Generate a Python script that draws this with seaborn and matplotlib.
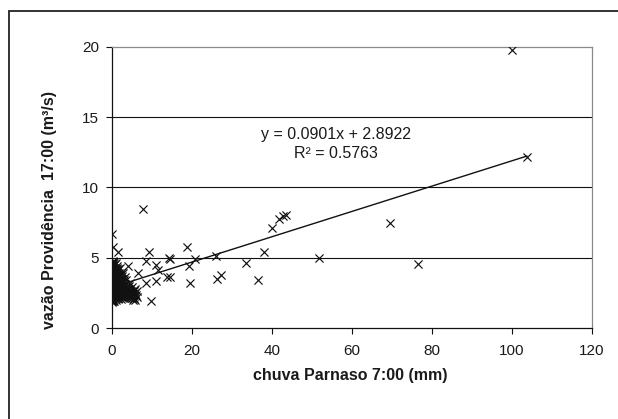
import matplotlib
matplotlib.use("Agg")
import matplotlib.pyplot as plt
import seaborn as sns
import pandas as pd
from matplotlib.patches import Rectangle

# ---- data ----
# dense cluster near zero rain
cluster_x = (
    [0.0] * 28
    + [0.2] * 8 + [0.5] * 8 + [0.8] * 6 + [1.0] * 7 + [1.3] * 5 + [1.6] * 5
    + [2.0] * 5 + [2.4] * 5 + [2.8] * 4 + [3.2] * 4 + [3.6] * 3 + [3.9]
    + [4.2] * 3 + [4.6] * 3 + [5.0] * 3 + [5.4] * 2 + [5.8] * 3 + [6.2] * 2 + [6.4]
)
cluster_y = (
    [1.9, 2.0, 2.1, 2.2, 2.3, 2.4, 2.5, 2.6, 2.7, 2.8, 2.9, 3.0, 3.1, 3.2,
     3.3, 3.4, 3.5, 3.6, 3.7, 3.8, 3.9, 4.0, 4.1, 4.2, 4.3, 4.4, 4.5, 4.6]
    + [2.05, 2.35, 2.75, 3.15, 3.45, 3.85, 4.25, 4.55]
    + [1.95, 2.45, 2.85, 3.25, 3.65, 4.05, 4.45, 4.7]
    + [2.2, 2.6, 3.0, 3.4, 3.9, 4.3]
    + [2.0, 2.5, 2.9, 3.3, 3.7, 4.1, 4.6]
    + [2.3, 2.8, 3.5, 4.0, 4.4]
    + [2.1, 2.7, 3.1, 3.6, 4.2]
    + [2.4, 2.9, 3.3, 3.8, 4.3]
    + [2.2, 2.6, 3.0, 3.5, 4.0]
    + [2.5, 2.9, 3.3, 3.9]
    + [2.3, 2.7, 3.1, 3.6]
    + [2.4, 2.8, 3.4]
    + [4.4]
    + [2.2, 2.6, 3.0]
    + [2.4, 2.8, 3.2]
    + [2.1, 2.5, 2.9]
    + [2.3, 2.7]
    + [2.0, 2.5, 2.8]
    + [2.2, 2.6]
    + [3.9]
)
# extra points filling the solid core of the cluster
core_x = ([0.1] * 10 + [0.35] * 9 + [0.65] * 8 + [1.15] * 6 + [1.45] * 5
          + [1.8] * 5 + [2.2] * 4 + [2.6] * 4 + [3.0] * 3 + [3.4] * 3
          + [4.0] * 2 + [4.4] * 2 + [4.8] * 2 + [5.2] * 2 + [5.6] * 2 + [6.0])
core_y = ([1.85, 2.25, 2.55, 2.95, 3.35, 3.55, 3.75, 4.15, 4.35, 4.65]
          + [1.9, 2.3, 2.6, 2.9, 3.3, 3.6, 3.95, 4.35, 4.75]
          + [2.1, 2.4, 2.75, 3.1, 3.5, 3.8, 4.2, 4.55]
          + [2.15, 2.55, 2.95, 3.45, 3.85, 4.25]
          + [2.05, 2.45, 3.05, 3.75, 4.15]
          + [2.25, 2.55, 2.95, 3.45, 3.95]
          + [2.05, 2.75, 3.15, 3.65]
          + [2.35, 2.8, 3.2, 3.7]
          + [2.15, 2.55, 3.45]
          + [2.1, 2.5, 2.95]
          + [2.35, 2.75]
          + [2.1, 2.6]
          + [2.25, 2.65]
          + [2.0, 2.45]
          + [2.15, 2.65]
          + [2.35])
# scattered points
spread_x = [0.0, 0.2, 1.6, 7.7, 9.2, 8.5, 11.0, 11.4, 14.3, 13.75, 11.0, 8.5,
            9.75, 14.5, 14.5, 18.8, 20.75, 19.3, 19.5, 26.0, 26.2, 27.2, 33.4,
            36.5, 38.0, 40.1, 41.8, 42.7, 43.5, 51.75, 69.5, 76.5, 100.0, 103.75]
spread_y = [6.7, 5.8, 5.4, 8.5, 5.4, 4.8, 4.5, 4.1, 5.0, 3.65, 3.35, 3.2,
            1.9, 4.9, 3.65, 5.8, 4.9, 4.4, 3.2, 5.1, 3.5, 3.8, 4.65,
            3.4, 5.4, 7.1, 7.75, 8.0, 8.05, 5.0, 7.5, 4.55, 19.8, 12.15]

x_ticks = [0, 20, 40, 60, 80, 100, 120]
y_ticks = [0, 5, 10, 15, 20]
grid_y = [5, 10, 15]

trend_slope = 0.0901
trend_intercept = 2.8922
trend_x = [0.0, 103.75]

equation_text = "y = 0.0901x + 2.8922"
r2_text = "R² = 0.5763"
x_label = "chuva Parnaso 7:00 (mm)"
y_label = "vazão Providência  17:00 (m³/s)"

# ---- build ----
df = pd.DataFrame({"chuva": cluster_x + core_x + spread_x,
                   "vazao": cluster_y + core_y + spread_y})
trend_df = pd.DataFrame({"x": trend_x,
                         "y": [trend_slope * v + trend_intercept for v in trend_x]})

sns.set_style("white")
plt.rcParams["font.family"] = ["Liberation Sans", "DejaVu Sans"]

fig = plt.figure(figsize=(6.18, 4.19), dpi=100)
ax = fig.add_axes([112 / 618, 1 - 328 / 419, 480 / 618, 281 / 419])

for gy in grid_y:
    ax.axhline(gy, color="#111111", lw=0.8, zorder=1)

sns.lineplot(data=trend_df, x="x", y="y", ax=ax, color="#111111", lw=1.0, zorder=2)
sns.scatterplot(data=df, x="chuva", y="vazao", ax=ax, marker="x", color="#111111",
                s=34, linewidth=0.85, zorder=3)

ax.set_xlim(0, 120)
ax.set_ylim(0, 20)
ax.set_xticks(x_ticks)
ax.set_yticks(y_ticks)
ax.set_xlabel("")
ax.set_ylabel("")

for side in ["left", "bottom"]:
    ax.spines[side].set_color("#111111")
    ax.spines[side].set_linewidth(0.9)
for side in ["top", "right"]:
    ax.spines[side].set_color("#8a8a8a")
    ax.spines[side].set_linewidth(0.9)
    ax.spines[side].set_visible(True)

ax.tick_params(axis="both", direction="out", length=4.3, width=0.8, color="#111111",
               labelsize=11, labelcolor="#1a1a1a", left=True, bottom=True)
ax.tick_params(axis="x", pad=7)
ax.tick_params(axis="y", pad=5)

ax.text(56, 13.75, equation_text, ha="center", va="center", fontsize=11.5, color="#1a1a1a")
ax.text(56, 12.45, r2_text, ha="center", va="center", fontsize=11.5, color="#1a1a1a")

fig.text(350 / 618, 1 - 375 / 419, x_label, ha="center", va="center",
         fontsize=11.5, fontweight="bold", color="#1a1a1a")
fig.text(50 / 618, 1 - 210 / 419, y_label, ha="center", va="center", rotation=90,
         fontsize=11.5, fontweight="bold", color="#1a1a1a")

fig.patches.append(Rectangle((9 / 618, -0.5), 2.0, 0.5 + (1 - 11 / 419),
                             transform=fig.transFigure, fill=False,
                             ec="#222222", lw=1.3))

fig.savefig("out.png", dpi=100)
